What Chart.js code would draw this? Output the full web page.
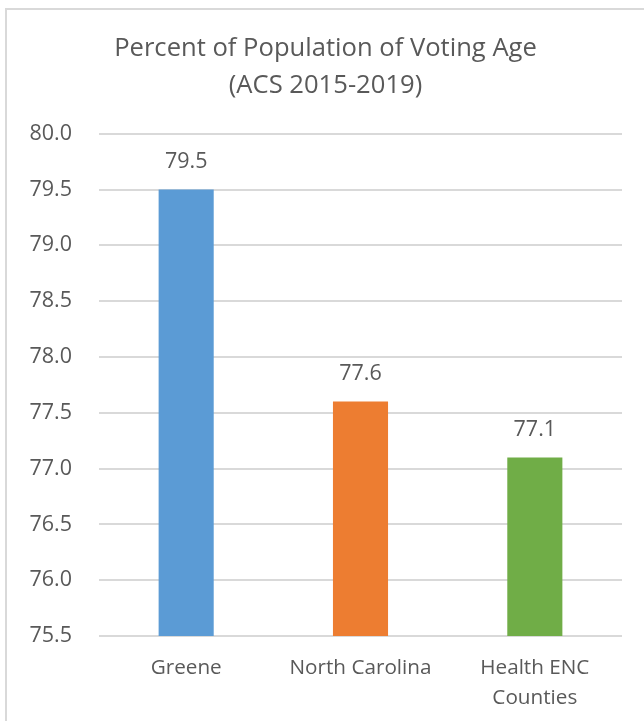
<!DOCTYPE html>
<html>
<head>
<meta charset="utf-8">
<script src="https://cdn.jsdelivr.net/npm/chart.js@4/dist/chart.umd.min.js"></script>
<style>
  html, body { margin: 0; padding: 0; background: #ffffff; overflow: hidden; width: 644px; height: 721px; }
  #frame { position: absolute; left: 5px; top: 8px; width: 700px; height: 760px; border: 2px solid #D9D9D9; box-sizing: border-box; }
  #wrap { position: absolute; left: 0; top: 0; width: 658px; height: 721px; }
</style>
</head>
<body>
<div id="frame"></div>
<div id="wrap"><canvas id="c" width="658" height="721"></canvas></div>
<script>
const categories = ["Greene", "North Carolina", ["Health ENC", "Counties"]];
const values = [79.5, 77.6, 77.1];
const barColors = ["#5B9BD5", "#ED7D31", "#70AD47"];
const titleLines = ["Percent of Population of Voting Age", "(ACS 2015-2019)"];
const yMin = 75.5, yMax = 80.0, yStep = 0.5;

const FONT = "'Open Sans', 'DejaVu Sans', sans-serif";
const TXT = "#595959";

const dataLabels = {
  id: "dataLabels",
  afterDatasetsDraw(chart) {
    const ctx = chart.ctx;
    ctx.save();
    ctx.font = "21.5px " + FONT;
    ctx.fillStyle = TXT;
    ctx.textAlign = "center";
    ctx.textBaseline = "middle";
    chart.data.datasets.forEach((ds, di) => {
      chart.getDatasetMeta(di).data.forEach((bar, i) => {
        ctx.fillText(ds.data[i].toFixed(1), bar.x, bar.y - 28);
      });
    });
    ctx.restore();
  }
};

new Chart(document.getElementById("c"), {
  type: "bar",
  data: {
    labels: categories,
    datasets: [{
      data: values,
      backgroundColor: barColors,
      borderWidth: 0,
      barPercentage: 0.316,
      categoryPercentage: 1.0
    }]
  },
  options: {
    responsive: false,
    animation: false,
    layout: { padding: { left: 29, right: 36, top: 0, bottom: 0 } },
    plugins: {
      legend: { display: false },
      tooltip: { enabled: false },
      title: {
        display: true,
        text: titleLines,
        color: TXT,
        font: { family: FONT, size: 25.6, weight: "normal", lineHeight: 1.42 },
        padding: { top: 31, bottom: 30 }
      }
    },
    scales: {
      x: {
        grid: { display: false },
        border: { display: false },
        ticks: {
          color: TXT,
          font: { family: FONT, size: 20.7, lineHeight: 1.45 },
          padding: 9,
          maxRotation: 0
        },
        afterFit(scale) { scale.height = 85; }
      },
      y: {
        min: yMin,
        max: yMax,
        border: { display: false },
        grid: { color: "#D9D9D9", lineWidth: 2, drawTicks: false },
        ticks: {
          stepSize: yStep,
          color: TXT,
          font: { family: FONT, size: 21.5 },
          padding: 27,
          callback: (v) => Number(v).toFixed(1)
        },
        afterFit(scale) { scale.width = 70; }
      }
    }
  },
  plugins: [dataLabels]
});
</script>
</body>
</html>
